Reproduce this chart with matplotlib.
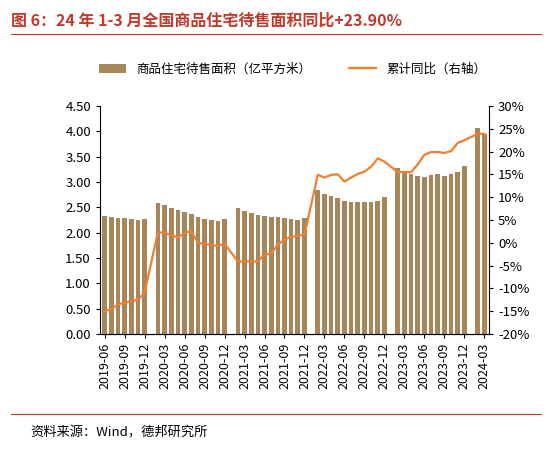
import matplotlib
matplotlib.use("Agg")
import matplotlib.pyplot as plt
import numpy as np

plt.rcParams['font.family'] = ['Noto Sans CJK SC', 'DejaVu Sans']

# 月度数据（1月缺失，1-2月合并在2月）
months = (["2019-%02d" % m for m in range(6, 13)]
          + ["%d-%02d" % (y, m) for y in (2020, 2021, 2022, 2023) for m in range(2, 13)]
          + ["2024-02", "2024-03"])
area = [2.33, 2.30, 2.29, 2.28, 2.26, 2.25, 2.27,
        2.58, 2.54, 2.49, 2.45, 2.40, 2.37, 2.30, 2.26, 2.25, 2.23, 2.26,
        2.48, 2.43, 2.39, 2.35, 2.33, 2.31, 2.30, 2.28, 2.27, 2.24, 2.28,
        2.84, 2.77, 2.73, 2.69, 2.63, 2.61, 2.61, 2.60, 2.61, 2.63, 2.70,
        3.28, 3.19, 3.15, 3.11, 3.10, 3.13, 3.15, 3.12, 3.15, 3.19, 3.32,
        4.06, 3.95]
yoy = [-15.0, -14.6, -13.5, -13.2, -12.8, -12.5, -11.0,
       2.3, 2.2, 1.6, 1.2, 2.1, 2.6, 0.0, -0.3, -0.5, -0.7, -0.2,
       -4.1, -4.1, -4.1, -4.1, -2.6, -2.4, -0.4, 0.7, 1.3, 1.5, 1.8,
       14.9, 14.3, 14.9, 15.0, 13.4, 14.3, 15.1, 15.6, 16.7, 18.5, 17.8,
       15.5, 15.5, 15.5, 17.2, 19.3, 19.9, 19.9, 19.7, 20.1, 21.9, 22.5,
       23.9, 23.9]

def idx(s):
    y, m = map(int, s.split("-"))
    return (y - 2019) * 12 + (m - 6)

x = np.array([idx(s) for s in months])
tick_pos = np.arange(0, idx("2024-03") + 1, 3)
tick_lab = ["%d-%02d" % (2019 + (5 + p) // 12, (5 + p) % 12 + 1) for p in tick_pos]

fig = plt.figure(figsize=(5.52, 4.53), dpi=100)
ax = fig.add_axes([0.181, 0.263, 0.705, 0.503])
ax2 = ax.twinx()

bar_c = "#a8865a"
line_c = "#f07f2f"
ax.bar(x, area, width=0.7, color=bar_c, label="商品住宅待售面积（亿平方米）")
ax2.plot(x, yoy, color=line_c, lw=1.6, label="累计同比（右轴）")

ax.set_xlim(-0.7, idx("2024-03") + 0.7)
ax.set_ylim(0, 4.5)
ax.set_yticks(np.arange(0, 4.51, 0.5))
ax.set_yticklabels(["%.2f" % v for v in np.arange(0, 4.51, 0.5)], fontsize=9.5)
ax2.set_ylim(-20, 30)
ax2.set_yticks(range(-20, 31, 5))
ax2.set_yticklabels(["%d%%" % v for v in range(-20, 31, 5)], fontsize=9.5)
ax.set_xticks(tick_pos)
ax.set_xticklabels(tick_lab, rotation=90, fontsize=9)
for a in (ax, ax2):
    a.spines["top"].set_visible(False)
    a.tick_params(direction="out", length=3)
ax.spines["right"].set_visible(False)
ax2.spines["left"].set_visible(False)

h1, l1 = ax.get_legend_handles_labels()
h2, l2 = ax2.get_legend_handles_labels()
fig.legend(h1 + h2, l1 + l2, loc="center", bbox_to_anchor=(0.53, 0.847), ncol=2,
           frameon=False, fontsize=9, handlelength=2.2, columnspacing=3)

fig.text(0.02, 0.955, "图 6：24 年 1-3 月全国商品住宅待售面积同比+23.90%",
         fontsize=11.5, fontweight="bold", color="#c0392b", va="center")
fig.add_artist(plt.Line2D([0.02, 0.98], [0.925, 0.925], color="#c0392b", lw=0.8))
fig.add_artist(plt.Line2D([0.02, 0.98], [0.085, 0.085], color="#c0392b", lw=0.8))
fig.text(0.055, 0.045, "资料来源：Wind，德邦研究所", fontsize=9.5, va="center")

fig.savefig("out.png", dpi=100)
